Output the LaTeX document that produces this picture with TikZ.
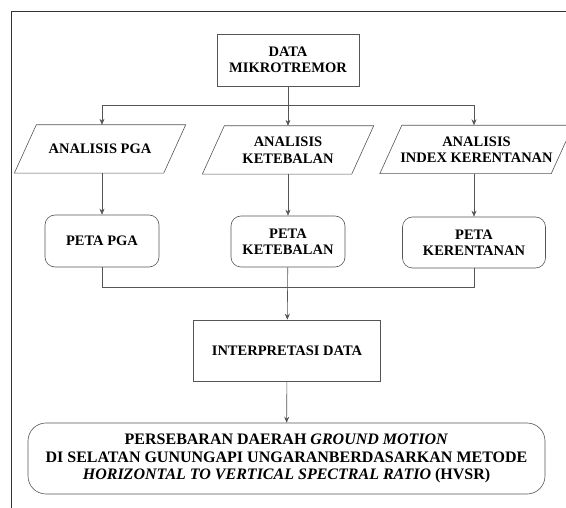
\documentclass[tikz,border=0pt]{standalone}
\usepackage{fontspec}
\setmainfont{Liberation Serif}
\usepackage{tikz}
\usetikzlibrary{arrows.meta, positioning}
\definecolor{LineGray}{HTML}{555555}
\definecolor{FrameGray}{HTML}{333333}
\begin{document}
\begin{tikzpicture}[
      x=1pt, y=-1pt,
      every node/.style={font=\fontsize{14.5}{16.5}\selectfont\bfseries, align=center, text=black, inner sep=0pt},
      box/.style={draw=LineGray, line width=0.6pt, minimum height=52pt},
      roundbox/.style={box, rounded corners=10pt},
      iobox/.style={minimum height=48pt, minimum width=149pt},
      link/.style={draw=LineGray, line width=0.6pt},
      arrow/.style={link, -{Stealth[length=6pt, width=5pt]}}
    ]
      \useasboundingbox (0,0) rectangle (566,508);
      \draw[FrameGray, line width=0.8pt] (11,508) -- (11,11) -- (566,11);
      \node[box, minimum width=142pt] (data) at (288,60) {DATA\\MIKROTREMOR};
      \node[iobox] (pga) at (100,149) {ANALISIS PGA};
      \node[iobox] (tebal) at (288,150) {ANALISIS\\KETEBALAN};
      \node[iobox, minimum width=171pt] (rentan) at (476.5,149.5) {ANALISIS\\INDEX KERENTANAN};
      \foreach \n in {pga, tebal, rentan}
        \draw[link] ([xshift=-11pt]\n.south west) -- ([xshift=11pt]\n.north west) -- ([xshift=11pt]\n.north east) -- ([xshift=-11pt]\n.south east) -- cycle;
      \node[roundbox, minimum width=114pt] (petapga) at (102,241) {PETA PGA};
      \node[roundbox, minimum width=114pt, minimum height=51pt] (petatebal) at (288,241.5) {PETA\\KETEBALAN};
      \node[roundbox, minimum width=143pt, minimum height=51pt] (petarentan) at (474,242.5) {PETA\\KERENTANAN};
      \node[box, minimum width=187pt, minimum height=61pt] (interp) at (287,350.5) {INTERPRETASI DATA};
      \node[box, rounded corners=18pt, minimum width=517pt, minimum height=71pt, font=\fontsize{16}{17.5}\selectfont\bfseries] (hasil) at (286.5,458.5)
        {PERSEBARAN DAERAH \textit{GROUND MOTION}\\DI SELATAN GUNUNGAPI UNGARANBERDASARKAN METODE\\\textit{HORIZONTAL TO VERTICAL SPECTRAL RATIO} (HVSR)};
      \coordinate (fork) at (288,105);
      \coordinate (join) at (288,287);
      \draw[link] (data) -- (fork);
      \draw[arrow] (fork) -| ([xshift=2pt]pga.north);
      \draw[arrow] (fork) -- (tebal);
      \draw[arrow] (fork) -| ([xshift=-2.5pt]rentan.north);
      \draw[arrow] ([xshift=2pt]pga.south) -- (petapga);
      \draw[arrow] (tebal) -- (petatebal);
      \draw[arrow] ([xshift=-2.5pt]rentan.south) -- (petarentan);
      \draw[link] (petapga) |- (join);
      \draw[link] (petarentan) |- (join);
      \draw[arrow] (petatebal) -- (interp);
      \draw[arrow] (interp) -- (hasil);
    \end{tikzpicture}
\end{document}
